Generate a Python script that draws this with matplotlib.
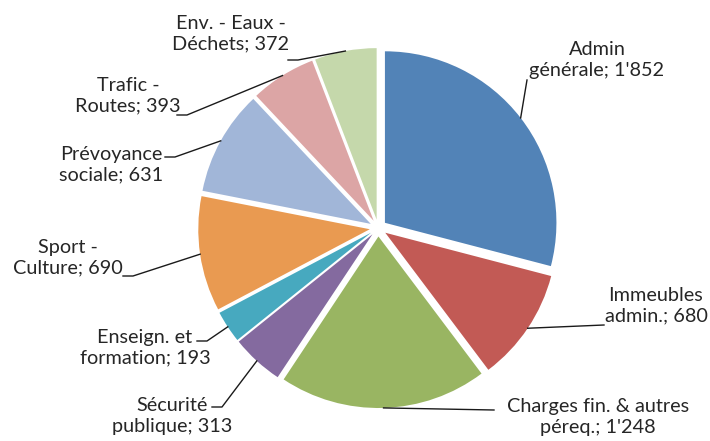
import numpy as np
import matplotlib
matplotlib.use("Agg")
import matplotlib.pyplot as plt

# budget par dicastère
labels = ["Admin\ngénérale; 1'852", "Immeubles\nadmin.; 680",
          "Charges fin. & autres\npéreq.; 1'248", "Sécurité\npublique; 313",
          "Enseign. et\nformation; 193", "Sport -\nCulture; 690",
          "Prévoyance\nsociale; 631", "Trafic -\nRoutes; 393",
          "Env. - Eaux -\nDéchets; 372"]
values = [1852, 680, 1248, 313, 193, 690, 631, 393, 372]
colors = ['#5283b7', '#c25a55', '#99b562', '#846a9f', '#47a9bf',
          '#e99a51', '#a1b6d8', '#dca5a5', '#c5d8ab']

# label placement (pixels from top-left): text centre, then leader elbow points
text_pos = [(597, 60), (656, 306), (598, 417), (172, 416), (145, 348),
            (68, 258), (111, 165), (128, 96), (231, 34)]
leader_pts = [[(527, 80)], [(604, 325)], [(494, 410)],
              [(222, 407), (212, 407)], [(207, 341), (197, 341)],
              [(133, 276), (123, 276)], [(175, 157), (165, 157)],
              [(187, 115), (177, 115)], [(298, 60), (288, 60)]]

W, H = 710, 441
plt.rcParams['font.family'] = ['Lato', 'DejaVu Sans']

fig = plt.figure(figsize=(W / 100, H / 100), dpi=100)
ax = fig.add_axes([0, 0, 1, 1])

cx, cy, R = 378.2, H - 228, 171.5
gap = 8.5  # pie() takes explode in data units
wedges, _ = ax.pie(values, colors=colors, startangle=90, counterclock=False,
                   explode=[gap] * len(values), radius=R, center=(cx, cy),
                   wedgeprops=dict(linewidth=0))

ax.set_xlim(0, W)
ax.set_ylim(0, H)
ax.set_aspect('equal')
ax.axis('off')

for w, lab, (tx, ty), pts in zip(wedges, labels, text_pos, leader_pts):
    mid = np.deg2rad((w.theta1 + w.theta2) / 2)
    wx, wy = w.center
    x0 = wx + w.r * np.cos(mid)
    y0 = wy + w.r * np.sin(mid)
    xs = [x0] + [p[0] for p in pts]
    ys = [y0] + [H - p[1] for p in pts]
    ax.plot(xs, ys, color='#1a1a1a', lw=1)
    ax.text(tx, H - ty, lab, ha='center', va='center', multialignment='center',
            fontsize=14.3, color='#262626', linespacing=1.25)

fig.savefig('out.png', dpi=100)
